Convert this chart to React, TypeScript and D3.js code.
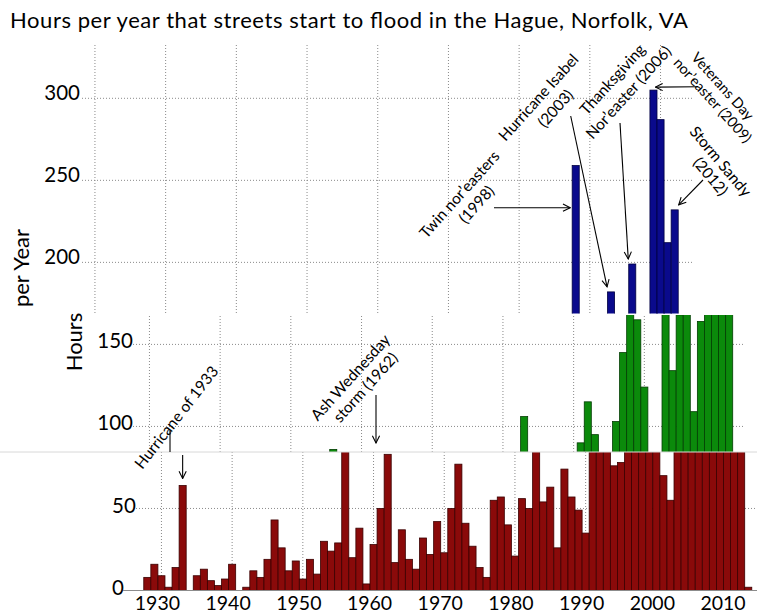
import React from 'react';
import * as d3 from 'd3';

// yearly totals
const years = [
  1928, 1929, 1930, 1931, 1932, 1933, 1934, 1935, 1936, 1937, 1938, 1939,
  1940, 1941, 1942, 1943, 1944, 1945, 1946, 1947, 1948, 1949,
  1950, 1951, 1952, 1953, 1954, 1955, 1956, 1957, 1958, 1959,
  1960, 1961, 1962, 1963, 1964, 1965, 1966, 1967, 1968, 1969,
  1970, 1971, 1972, 1973, 1974, 1975, 1976, 1977, 1978, 1979,
  1980, 1981, 1982, 1983, 1984, 1985, 1986, 1987, 1988, 1989,
  1990, 1991, 1992, 1993, 1994, 1995, 1996, 1997, 1998, 1999,
  2000, 2001, 2002, 2003, 2004, 2005, 2006, 2007, 2008, 2009,
  2010, 2011, 2012, 2013,
];
const hours = [
  8, 16, 9, 2, 14, 64, 0, 9, 13, 6, 3, 7,
  16, 0, 2, 12, 8, 19, 43, 26, 12, 18,
  7, 19, 10, 30, 24, 29, 86, 20, 38, 4,
  28, 50, 83, 17, 37, 19, 13, 32, 22, 42,
  23, 50, 77, 41, 27, 14, 8, 55, 57, 40,
  21, 56, 50, 106, 54, 63, 26, 74, 57, 49,
  35, 90, 115, 95, 76, 78, 103, 145, 259, 165,
  124, 70, 55, 182, 134, 168, 199, 109, 164, 305,
  287, 212, 232, 2,
];
const decades = [1930, 1940, 1950, 1960, 1970, 1980, 1990, 2000, 2010];
const topTicks = [200, 250, 300];
const midTicks = [100, 150];
const lowTicks = [0, 50];

const FONT = 'Lato, "Open Sans", sans-serif';

export default function App() {
  const W = 757;
  const H = 615;

  const x = d3.scaleLinear().domain([1928, 2013]).range([147.3, 147.3 + 85 * 7.07]);
  const bw = x(1929) - x(1928);
  const y = d3.scaleLinear().domain([0, 300]).range([590.5, 98.3]);

  // the picture is three pieces pasted together, each slid sideways a bit
  const panels = [
    { id: 'top', y0: 40, y1: 313.5, dx: -66.5, fill: '#0a0a8c', stroke: '#000040',
      ticks: topTicks, tickX: 80, anchor: 'end', tickDy: 1.5, gx0: 82, gx1: 692, vy0: 45 },
    { id: 'mid', y0: 315, y1: 452, dx: -12, fill: '#0b8a0b', stroke: '#033d03',
      ticks: midTicks, tickX: 133, anchor: 'end', tickDy: 4, gx0: 133, gx1: 745, vy0: 316 },
    { id: 'low', y0: 452, y1: 590.5, dx: 0, fill: '#8a0a0a', stroke: '#3a0000',
      ticks: lowTicks, tickX: 112, anchor: 'start', tickDy: 4.5, gx0: 136, gx1: 757, vy0: 452 },
  ];

  const arrows = [
    { x1: 170, y1: 430, x2: 170, y2: 452, head: false },
    { x1: x(1933), y1: 455, x2: x(1933), y2: y(64) - 7, head: true },
    { x1: 376, y1: 395, x2: 376, y2: 443, head: true },
    { x1: 494, y1: 207.7, x2: x(1998) - 66.5 - bw / 2 - 2, y2: 207.7, head: true },
    { x1: 570.7, y1: 116, x2: x(2003) - 66.5 - 4, y2: y(182) - 5, head: true },
    { x1: 620, y1: 123, x2: x(2006) - 66.5 - 4, y2: y(199) - 5, head: true },
    { x1: 698, y1: 86.7, x2: x(2009) - 66.5 + 2, y2: y(305) - 3, head: true },
    { x1: 703, y1: 180, x2: x(2012) - 66.5 + 4, y2: y(232) - 5, head: true },
  ];

  const notes = [
    { t: 'Hurricane of 1933', cx: 176, cy: 417, a: -52, s: 15.5 },
    { t: 'Ash Wednesday', cx: 350, cy: 377, a: -48, s: 15.5 },
    { t: 'storm (1962)', cx: 365, cy: 387, a: -48, s: 15.5 },
    { t: 'Twin nor\u2019easters', cx: 459, cy: 194, a: -48, s: 15.5 },
    { t: '(1998)', cx: 476, cy: 204, a: -48, s: 15.5 },
    { t: 'Hurricane Isabel', cx: 538, cy: 97, a: -48, s: 15.5 },
    { t: '(2003)', cx: 555, cy: 108, a: -48, s: 15.5 },
    { t: 'Thanksgiving', cx: 612, cy: 79, a: -48, s: 15.5 },
    { t: 'Nor\u2019easter (2006)', cx: 628, cy: 92, a: -48, s: 15.5 },
    { t: 'Veterans Day', cx: 723, cy: 86, a: 48, s: 14.5 },
    { t: 'nor\u2019easter (2009)', cx: 713, cy: 100, a: 48, s: 14.5 },
    { t: 'Storm Sandy', cx: 721, cy: 161, a: 50, s: 15.5 },
    { t: '(2012)', cx: 711, cy: 176, a: 50, s: 15.5 },
  ];

  return (
    <svg width={W} height={H} style={{ position: 'absolute', left: 0, top: 0, background: '#fff' }}
      fontFamily={FONT}>
      <defs>
        {panels.map(p => (
          <clipPath id={`clip-${p.id}`} key={p.id}>
            <rect x={0} y={p.y0} width={W} height={p.y1 - p.y0} />
          </clipPath>
        ))}
        <marker id="ah" viewBox="0 0 10 10" refX="9" refY="5" markerWidth="9" markerHeight="9"
          orient="auto" markerUnits="userSpaceOnUse">
          <path d="M1,1 L9,5 L1,9" fill="none" stroke="#000" strokeWidth={1.2} />
        </marker>
      </defs>

      <text x={10} y={28} fontSize={22} textLength={678} lengthAdjust="spacing" fill="#000">
        Hours per year that streets start to flood in the Hague, Norfolk, VA
      </text>

      {panels.map(p => (
        <g key={p.id}>
          <g clipPath={`url(#clip-${p.id})`}>
            {p.ticks.filter(t => t > 0).map(t => (
              <line key={t} x1={p.gx0} x2={p.gx1} y1={y(t)} y2={y(t)}
                stroke="#8a8a8a" strokeDasharray="1 2" />
            ))}
            {decades.map(d => (
              <line key={d} x1={x(d) + p.dx} x2={x(d) + p.dx} y1={p.vy0} y2={p.y1}
                stroke="#8a8a8a" strokeDasharray="1 2" />
            ))}
            {years.map((yr, i) => hours[i] > 0 && (
              <rect key={yr} x={x(yr) + p.dx - bw / 2} width={bw}
                y={y(hours[i])} height={y(0) - y(hours[i])}
                fill={p.fill} stroke={p.stroke} strokeWidth={0.8} />
            ))}
          </g>
          {p.ticks.map(t => (
            <text key={t} x={p.tickX} y={y(t) + p.tickDy} fontSize={20.5}
              textAnchor={p.anchor} fill="#000">{t}</text>
          ))}
        </g>
      ))}

      <line x1={0} x2={W} y1={452} y2={452} stroke="#d8d8d8" />
      <line x1={123} x2={W} y1={y(0)} y2={y(0)} stroke="#8c8c8c" />

      {decades.map(d => (
        <text key={d} x={x(d) - 4} y={610} fontSize={19.5} textAnchor="middle" fill="#000">{d}</text>
      ))}

      <text transform="translate(29,268) rotate(-90)" fontSize={22} textAnchor="middle" fill="#000">per Year</text>
      <text transform="translate(81.5,342) rotate(-90)" fontSize={22} textAnchor="middle" fill="#000">Hours</text>

      {arrows.map((a, i) => (
        <line key={i} x1={a.x1} y1={a.y1} x2={a.x2} y2={a.y2} stroke="#000" strokeWidth={1.1}
          markerEnd={a.head ? 'url(#ah)' : undefined} />
      ))}

      {notes.map((n, i) => (
        <text key={i} transform={`translate(${n.cx},${n.cy}) rotate(${n.a})`} fontSize={n.s}
          textAnchor="middle" dominantBaseline="central" fill="#000">{n.t}</text>
      ))}
    </svg>
  );
}
